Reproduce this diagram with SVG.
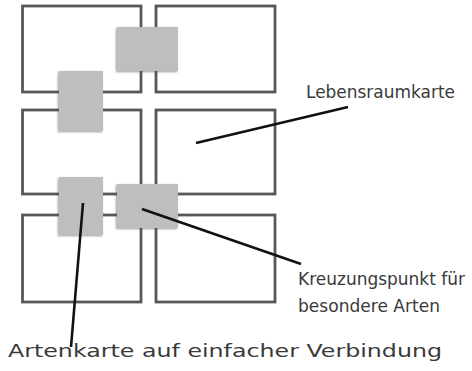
<svg xmlns="http://www.w3.org/2000/svg" width="472" height="371" viewBox="0 0 472 371">
<defs>
<style>
.hab{fill:#fff;stroke:#58585a;stroke-width:2.8}
.card{fill:#bdbec0;filter:url(#sh)}
.lead{stroke:#111;stroke-width:2.6;fill:none;stroke-linecap:butt}
.lbl{font-family:"DejaVu Sans",sans-serif;font-size:17px;fill:#3a3a3a}
</style>
<filter id="sh" x="-20%" y="-20%" width="140%" height="140%">
<feDropShadow dx="-1" dy="1" stdDeviation="0.8" flood-color="#555" flood-opacity="0.6"/>
</filter>
</defs>
<g id="habitats">
<rect id="h1" class="hab" x="22.5" y="6" width="118.5" height="86"/>
<rect id="h2" class="hab" x="156" y="6" width="119" height="86"/>
<rect id="h3" class="hab" x="22.5" y="110" width="118.5" height="84"/>
<rect id="h4" class="hab" x="156" y="110" width="119" height="84"/>
<rect id="h5" class="hab" x="22.5" y="215" width="118.5" height="87"/>
<rect id="h6" class="hab" x="156" y="215" width="119" height="87"/>
</g>
<g id="cards">
<rect id="c1" class="card" x="117" y="27" width="61" height="44"/>
<rect id="c2" class="card" x="59" y="71" width="44" height="60"/>
<rect id="c3" class="card" x="59" y="177" width="44" height="58"/>
<rect id="c4" class="card" x="117" y="184" width="61" height="44"/>
</g>
<g id="connectors">
<line class="lead" x1="196" y1="143" x2="348" y2="107"/>
<line class="lead" x1="142" y1="209" x2="301" y2="264"/>
<line class="lead" x1="83" y1="203" x2="71" y2="347"/>
</g>
<g id="labels">
<text class="lbl" x="306" y="98" textLength="149" lengthAdjust="spacingAndGlyphs">Lebensraumkarte</text>
<text class="lbl" x="298" y="285" textLength="167" lengthAdjust="spacingAndGlyphs">Kreuzungspunkt für</text>
<text class="lbl" x="298" y="312" textLength="142" lengthAdjust="spacingAndGlyphs">besondere Arten</text>
<text class="lbl" x="8" y="357" textLength="434" lengthAdjust="spacingAndGlyphs">Artenkarte auf einfacher Verbindung</text>
</g>
</svg>
